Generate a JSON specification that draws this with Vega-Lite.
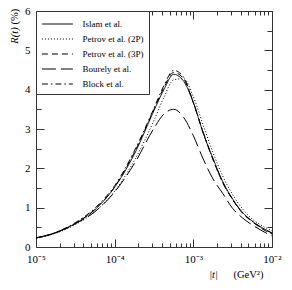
{
  "$schema": "https://vega.github.io/schema/vega-lite/v6.json",
  "width": 236,
  "height": 236,
  "autosize": "none",
  "padding": {"left": 36, "top": 11, "right": 20, "bottom": 43},
  "config": {
    "view": {"stroke": "#333", "strokeWidth": 1},
    "font": "Liberation Serif",
    "axis": {"grid": false, "domain": false, "tickColor": "#333", "tickWidth": 1, "labelFont": "Liberation Serif", "labelFontSize": 11, "labelColor": "black", "titleFont": "Liberation Serif", "titleFontSize": 10.5, "titleFontWeight": "normal", "titleColor": "black"}
  },
  "datasets": {
    "curves": [
      {"t": 0.00001, "R": 0.23, "model": "Islam et al."},
      {"t": 0.00001778, "R": 0.36, "model": "Islam et al."},
      {"t": 0.00003162, "R": 0.60, "model": "Islam et al."},
      {"t": 0.00005623, "R": 0.95, "model": "Islam et al."},
      {"t": 0.0001, "R": 1.52, "model": "Islam et al."},
      {"t": 0.0001778, "R": 2.36, "model": "Islam et al."},
      {"t": 0.0003162, "R": 3.47, "model": "Islam et al."},
      {"t": 0.0004217, "R": 4.00, "model": "Islam et al."},
      {"t": 0.0005623, "R": 4.39, "model": "Islam et al."},
      {"t": 0.0007499, "R": 4.22, "model": "Islam et al."},
      {"t": 0.001, "R": 3.68, "model": "Islam et al."},
      {"t": 0.001334, "R": 2.90, "model": "Islam et al."},
      {"t": 0.001778, "R": 2.25, "model": "Islam et al."},
      {"t": 0.002371, "R": 1.66, "model": "Islam et al."},
      {"t": 0.003162, "R": 1.22, "model": "Islam et al."},
      {"t": 0.004217, "R": 0.88, "model": "Islam et al."},
      {"t": 0.005623, "R": 0.66, "model": "Islam et al."},
      {"t": 0.007499, "R": 0.49, "model": "Islam et al."},
      {"t": 0.01, "R": 0.36, "model": "Islam et al."},

      {"t": 0.00001, "R": 0.22, "model": "Petrov et al. (2P)"},
      {"t": 0.00001778, "R": 0.35, "model": "Petrov et al. (2P)"},
      {"t": 0.00003162, "R": 0.57, "model": "Petrov et al. (2P)"},
      {"t": 0.00005623, "R": 0.90, "model": "Petrov et al. (2P)"},
      {"t": 0.0001, "R": 1.42, "model": "Petrov et al. (2P)"},
      {"t": 0.0001778, "R": 2.20, "model": "Petrov et al. (2P)"},
      {"t": 0.0003162, "R": 3.22, "model": "Petrov et al. (2P)"},
      {"t": 0.0004217, "R": 3.80, "model": "Petrov et al. (2P)"},
      {"t": 0.0005623, "R": 4.25, "model": "Petrov et al. (2P)"},
      {"t": 0.0007499, "R": 4.28, "model": "Petrov et al. (2P)"},
      {"t": 0.001, "R": 3.82, "model": "Petrov et al. (2P)"},
      {"t": 0.001334, "R": 3.10, "model": "Petrov et al. (2P)"},
      {"t": 0.001778, "R": 2.40, "model": "Petrov et al. (2P)"},
      {"t": 0.002371, "R": 1.80, "model": "Petrov et al. (2P)"},
      {"t": 0.003162, "R": 1.33, "model": "Petrov et al. (2P)"},
      {"t": 0.004217, "R": 0.97, "model": "Petrov et al. (2P)"},
      {"t": 0.005623, "R": 0.71, "model": "Petrov et al. (2P)"},
      {"t": 0.007499, "R": 0.54, "model": "Petrov et al. (2P)"},
      {"t": 0.01, "R": 0.41, "model": "Petrov et al. (2P)"},

      {"t": 0.00001, "R": 0.23, "model": "Petrov et al. (3P)"},
      {"t": 0.00001778, "R": 0.36, "model": "Petrov et al. (3P)"},
      {"t": 0.00003162, "R": 0.60, "model": "Petrov et al. (3P)"},
      {"t": 0.00005623, "R": 0.96, "model": "Petrov et al. (3P)"},
      {"t": 0.0001, "R": 1.53, "model": "Petrov et al. (3P)"},
      {"t": 0.0001778, "R": 2.40, "model": "Petrov et al. (3P)"},
      {"t": 0.0003162, "R": 3.50, "model": "Petrov et al. (3P)"},
      {"t": 0.0004217, "R": 4.05, "model": "Petrov et al. (3P)"},
      {"t": 0.0005623, "R": 4.44, "model": "Petrov et al. (3P)"},
      {"t": 0.0007499, "R": 4.28, "model": "Petrov et al. (3P)"},
      {"t": 0.001, "R": 3.66, "model": "Petrov et al. (3P)"},
      {"t": 0.001334, "R": 2.90, "model": "Petrov et al. (3P)"},
      {"t": 0.001778, "R": 2.22, "model": "Petrov et al. (3P)"},
      {"t": 0.002371, "R": 1.63, "model": "Petrov et al. (3P)"},
      {"t": 0.003162, "R": 1.20, "model": "Petrov et al. (3P)"},
      {"t": 0.004217, "R": 0.86, "model": "Petrov et al. (3P)"},
      {"t": 0.005623, "R": 0.64, "model": "Petrov et al. (3P)"},
      {"t": 0.007499, "R": 0.46, "model": "Petrov et al. (3P)"},
      {"t": 0.01, "R": 0.33, "model": "Petrov et al. (3P)"},

      {"t": 0.00001, "R": 0.23, "model": "Bourely et al."},
      {"t": 0.00001778, "R": 0.37, "model": "Bourely et al."},
      {"t": 0.00003162, "R": 0.59, "model": "Bourely et al."},
      {"t": 0.00005623, "R": 0.90, "model": "Bourely et al."},
      {"t": 0.0001, "R": 1.40, "model": "Bourely et al."},
      {"t": 0.0001778, "R": 2.12, "model": "Bourely et al."},
      {"t": 0.0003162, "R": 3.02, "model": "Bourely et al."},
      {"t": 0.0004217, "R": 3.38, "model": "Bourely et al."},
      {"t": 0.0005623, "R": 3.50, "model": "Bourely et al."},
      {"t": 0.0007499, "R": 3.30, "model": "Bourely et al."},
      {"t": 0.001, "R": 2.83, "model": "Bourely et al."},
      {"t": 0.001334, "R": 2.24, "model": "Bourely et al."},
      {"t": 0.001778, "R": 1.73, "model": "Bourely et al."},
      {"t": 0.002371, "R": 1.36, "model": "Bourely et al."},
      {"t": 0.003162, "R": 0.98, "model": "Bourely et al."},
      {"t": 0.004217, "R": 0.74, "model": "Bourely et al."},
      {"t": 0.005623, "R": 0.56, "model": "Bourely et al."},
      {"t": 0.007499, "R": 0.41, "model": "Bourely et al."},
      {"t": 0.01, "R": 0.28, "model": "Bourely et al."},

      {"t": 0.00001, "R": 0.23, "model": "Block et al."},
      {"t": 0.00001778, "R": 0.37, "model": "Block et al."},
      {"t": 0.00003162, "R": 0.62, "model": "Block et al."},
      {"t": 0.00005623, "R": 0.99, "model": "Block et al."},
      {"t": 0.0001, "R": 1.56, "model": "Block et al."},
      {"t": 0.0001778, "R": 2.44, "model": "Block et al."},
      {"t": 0.0003162, "R": 3.53, "model": "Block et al."},
      {"t": 0.0004217, "R": 4.10, "model": "Block et al."},
      {"t": 0.0005623, "R": 4.49, "model": "Block et al."},
      {"t": 0.0007499, "R": 4.32, "model": "Block et al."},
      {"t": 0.001, "R": 3.68, "model": "Block et al."},
      {"t": 0.001334, "R": 2.92, "model": "Block et al."},
      {"t": 0.001778, "R": 2.24, "model": "Block et al."},
      {"t": 0.002371, "R": 1.64, "model": "Block et al."},
      {"t": 0.003162, "R": 1.21, "model": "Block et al."},
      {"t": 0.004217, "R": 0.87, "model": "Block et al."},
      {"t": 0.005623, "R": 0.65, "model": "Block et al."},
      {"t": 0.007499, "R": 0.48, "model": "Block et al."},
      {"t": 0.01, "R": 0.35, "model": "Block et al."}
    ]
  },
  "data": {"name": "curves"},
  "resolve": {"axis": {"x": "independent", "y": "independent"}},
  "layer": [
    {
      "mark": {"type": "line", "interpolate": "monotone", "color": "black", "strokeWidth": 1},
      "encoding": {
        "x": {"field": "t", "type": "quantitative",
          "scale": {"type": "log", "domain": [0.00001, 0.01], "nice": false},
          "axis": {"orient": "bottom", "values": [0.00001, 0.0001, 0.001, 0.01], "tickSize": -8, "labelPadding": 14,
            "labelExpr": "datum.value < 0.00005 ? '10⁻⁵' : datum.value < 0.0005 ? '10⁻⁴' : datum.value < 0.005 ? '10⁻³' : '10⁻²'",
            "labelFlush": false, "labelOverlap": false,
            "title": "|t|", "titleFontStyle": "italic", "titleX": 177, "titleY": 27, "titleAlign": "center", "titleBaseline": "middle"}},
        "y": {"field": "R", "type": "quantitative",
          "scale": {"domain": [0, 6], "nice": false, "zero": true},
          "axis": {"orient": "left", "values": [0, 1, 2, 3, 4, 5, 6], "tickSize": -8, "labelPadding": 14,
            "labelFlush": false, "labelOverlap": false,
            "title": "R(t)", "titleFontStyle": "italic", "titleX": -22, "titleY": 24, "titleAlign": "center", "titleBaseline": "middle", "titleAngle": 270}},
        "strokeDash": {"field": "model", "type": "nominal",
          "scale": {"domain": ["Islam et al.", "Petrov et al. (2P)", "Petrov et al. (3P)", "Bourely et al.", "Block et al."],
            "range": [[1, 0], [1, 2], [6, 4], [14, 5], [6, 3, 1.5, 3]]},
          "legend": {"orient": "top-left", "offset": 0, "title": null, "strokeColor": "#333", "fillColor": "white", "padding": 5,
            "symbolType": "M-2.19,0H2.19", "symbolSize": 200, "symbolOffset": 8.4, "symbolStrokeWidth": 1, "symbolStrokeColor": "black", "symbolFillColor": "transparent",
            "labelFont": "Liberation Serif", "labelFontSize": 9, "labelColor": "black", "labelOffset": 17, "rowPadding": 2}}
      }
    },
    {
      "mark": {"type": "line", "opacity": 0},
      "encoding": {
        "x": {"field": "t", "type": "quantitative",
          "axis": {"orient": "bottom", "values": [0.00002, 0.00003, 0.00004, 0.00005, 0.00006, 0.00007, 0.00008, 0.00009, 0.0002, 0.0003, 0.0004, 0.0005, 0.0006, 0.0007, 0.0008, 0.0009, 0.002, 0.003, 0.004, 0.005, 0.006, 0.007, 0.008, 0.009],
            "tickSize": -4, "labels": false,
            "title": "(GeV²)", "titleX": 212, "titleY": 27, "titleAlign": "center", "titleBaseline": "middle"}},
        "y": {"field": "R", "type": "quantitative",
          "axis": {"orient": "left", "values": [0.5, 1.5, 2.5, 3.5, 4.5, 5.5], "tickSize": -5, "labels": false,
            "title": "(%)", "titleX": -22, "titleY": 5, "titleAlign": "center", "titleBaseline": "middle", "titleAngle": 270}},
        "detail": {"field": "model"}
      }
    },
    {
      "mark": {"type": "line", "opacity": 0},
      "encoding": {
        "x": {"field": "t", "type": "quantitative",
          "axis": {"orient": "top", "values": [0.00001, 0.0001, 0.001, 0.01], "tickSize": -8, "labels": false, "title": null}},
        "y": {"field": "R", "type": "quantitative",
          "axis": {"orient": "right", "values": [0, 1, 2, 3, 4, 5, 6], "tickSize": -8, "labels": false, "title": null}},
        "detail": {"field": "model"}
      }
    },
    {
      "mark": {"type": "line", "opacity": 0},
      "encoding": {
        "x": {"field": "t", "type": "quantitative",
          "axis": {"orient": "top", "values": [0.00002, 0.00003, 0.00004, 0.00005, 0.00006, 0.00007, 0.00008, 0.00009, 0.0002, 0.0003, 0.0004, 0.0005, 0.0006, 0.0007, 0.0008, 0.0009, 0.002, 0.003, 0.004, 0.005, 0.006, 0.007, 0.008, 0.009],
            "tickSize": -4, "labels": false, "title": null}},
        "y": {"field": "R", "type": "quantitative",
          "axis": {"orient": "right", "values": [0.5, 1.5, 2.5, 3.5, 4.5, 5.5], "tickSize": -5, "labels": false, "title": null}},
        "detail": {"field": "model"}
      }
    }
  ]
}
